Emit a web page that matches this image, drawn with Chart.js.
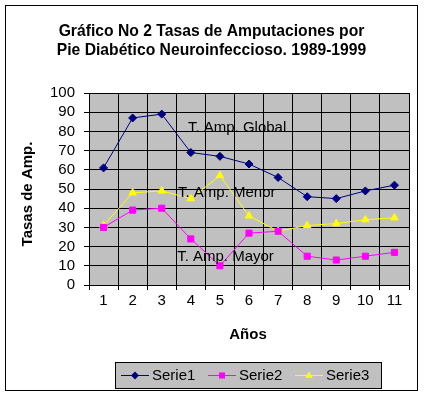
<!DOCTYPE html>
<html>
<head>
<meta charset="utf-8">
<script src="https://cdn.jsdelivr.net/npm/chart.js@4/dist/chart.umd.min.js"></script>
<style>
  html, body { margin: 0; padding: 0; background: #fff; }
  #wrap { width: 424px; height: 397px; }
</style>
</head>
<body>
<div id="wrap"><canvas id="chart" width="424" height="397"></canvas></div>
<script>
// Data
const years = ['1', '2', '3', '4', '5', '6', '7', '8', '9', '10', '11'];
const serie1 = [61, 87, 89, 69, 67, 63, 56, 46, 45, 49, 52];
const serie2 = [30, 39, 40, 24, 10, 27, 28, 15, 13, 15, 17];
const serie3 = [31, 48, 49, 45, 57, 36, 28, 31, 32, 34, 35];
const seriesNames = ['Serie1', 'Serie2', 'Serie3'];
const titleLines = ['Gráfico No 2 Tasas de Amputaciones por', 'Pie Diabético Neuroinfeccioso. 1989-1999'];

// Text labels inside the plot (category position, value position)
const notes = [
    { text: 'T. Amp. Global', x: 2.9, y: 82 },
    { text: 'T. Amp. Menor', x: 2.56, y: 48 },
    { text: 'T. Amp. Mayor', x: 2.53, y: 14.6 }
];

const FONT = '"Liberation Sans", Arial, sans-serif';

function drawMarker(ctx, style, x, y, r) {
    ctx.beginPath();
    if (style === 'rectRot') {
        ctx.moveTo(x, y - r); ctx.lineTo(x + r, y); ctx.lineTo(x, y + r); ctx.lineTo(x - r, y);
    } else if (style === 'rect') {
        const s = r * Math.SQRT1_2;
        ctx.rect(x - s, y - s, 2 * s, 2 * s);
    } else {
        const h = r * 1.5, e = r * Math.sqrt(3) / 2;
        ctx.moveTo(x, y - r); ctx.lineTo(x + e, y + h - r); ctx.lineTo(x - e, y + h - r);
    }
    ctx.closePath();
    ctx.fill();
}

const decor = {
    id: 'decor',
    beforeDraw(chart) {
        const { ctx, chartArea: a } = chart;
        ctx.save();
        ctx.fillStyle = '#fff';
        ctx.fillRect(0, 0, chart.width, chart.height);
        ctx.fillStyle = '#c0c0c0';
        ctx.fillRect(a.left, a.top, a.right - a.left, a.bottom - a.top);
        ctx.restore();
    },
    afterDraw(chart) {
        const { ctx, chartArea: a } = chart;
        const xs = chart.scales.x, ys = chart.scales.y;
        ctx.save();
        // outer frame
        ctx.strokeStyle = '#000';
        ctx.lineWidth = 1;
        ctx.strokeRect(5.5, 5.5, 412, 385);

        // title
        ctx.fillStyle = '#000';
        ctx.textAlign = 'center';
        ctx.textBaseline = 'middle';
        ctx.font = 'bold 15.7px ' + FONT;
        ctx.fillText(titleLines[0], 211.5, 32);
        ctx.fillText(titleLines[1], 211.5, 51);

        // axis titles
        ctx.font = 'bold 15px ' + FONT;
        ctx.fillText('Años', (a.left + a.right) / 2 - 1, 335);
        ctx.save();
        ctx.translate(27.5, 194);
        ctx.rotate(-Math.PI / 2);
        ctx.fillText('Tasas de Amp.', 0, 0);
        ctx.restore();

        // notes inside plot
        ctx.font = '15px ' + FONT;
        ctx.textAlign = 'left';
        notes.forEach(n => {
            ctx.fillText(n.text, xs.getPixelForValue(n.x), ys.getPixelForValue(n.y));
        });

        // legend
        ctx.fillStyle = '#c0c0c0';
        ctx.fillRect(115.5, 362.5, 266, 26);
        ctx.strokeRect(115.5, 362.5, 266, 26);
        const starts = [121, 208, 295];
        chart.data.datasets.forEach((ds, i) => {
            const lx = starts[i], ly = 375.5;
            ctx.strokeStyle = ds.borderColor;
            ctx.beginPath();
            ctx.moveTo(lx, ly); ctx.lineTo(lx + 28, ly);
            ctx.stroke();
            ctx.fillStyle = ds.backgroundColor;
            drawMarker(ctx, ds.pointStyle, lx + 14, ly, ds.pointRadius);
            ctx.fillStyle = '#000';
            ctx.font = '15px ' + FONT;
            ctx.textBaseline = 'middle';
            ctx.fillText(ds.label, lx + 31, 376);
        });
        ctx.restore();
    }
};

new Chart(document.getElementById('chart'), {
    type: 'line',
    data: {
        labels: years,
        datasets: [
            { label: seriesNames[0], data: serie1, borderColor: '#000080', backgroundColor: '#000080', borderWidth: 1, pointStyle: 'rectRot', pointRadius: 4, pointBorderWidth: 1, tension: 0 },
            { label: seriesNames[1], data: serie2, borderColor: '#ff00ff', backgroundColor: '#ff00ff', borderWidth: 1, pointStyle: 'rect', pointRadius: 4.3, pointBorderWidth: 1, tension: 0 },
            { label: seriesNames[2], data: serie3, borderColor: '#ffff00', backgroundColor: '#ffff00', borderWidth: 1, pointStyle: 'triangle', pointRadius: 4.3, pointBorderWidth: 1, tension: 0 }
        ]
    },
    options: {
        responsive: false,
        animation: false,
        devicePixelRatio: 1,
        layout: { padding: { top: 93, left: 0, right: 15, bottom: 82 } },
        plugins: { legend: { display: false }, title: { display: false }, tooltip: { enabled: false } },
        scales: {
            x: {
                offset: true,
                grid: { offset: true, color: '#000', lineWidth: 1, tickLength: 5, drawTicks: true },
                border: { color: '#000', width: 1 },
                ticks: { color: '#000', font: { family: FONT, size: 15 }, padding: 2, maxRotation: 0, autoSkip: false },
                afterFit: s => { s.height = 30; }
            },
            y: {
                min: 0, max: 100,
                grid: { color: '#000', lineWidth: 1, tickLength: 5 },
                border: { color: '#000', width: 1 },
                ticks: { stepSize: 10, autoSkip: false, color: '#000', font: { family: FONT, size: 15 }, padding: 9 },
                afterFit: s => { s.width = 89; }
            }
        }
    },
    plugins: [decor]
});
</script>
</body>
</html>
